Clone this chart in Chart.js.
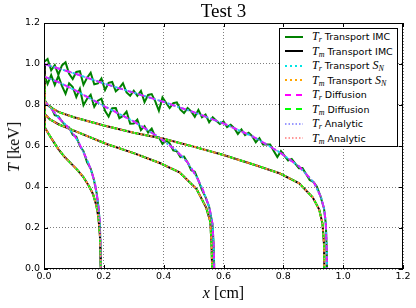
<!DOCTYPE html>
<html>
<head>
<meta charset="utf-8">
<script src="https://cdn.jsdelivr.net/npm/chart.js@4.4.1/dist/chart.umd.min.js"></script>
<style>
  body { margin: 0; background: #fff; }
  #wrap { position: relative; width: 416px; height: 308px; }
  #c { position: absolute; left: 0; top: 0; }
  .title { position: absolute; left: 44px; width: 359px; top: 0; line-height: 20px; text-align: center; font: 19px "Liberation Serif", serif; }
  .xlab { position: absolute; left: 44px; width: 359px; top: 284px; line-height: 18px; text-align: center; font: 16px "Liberation Serif", serif; }
  .ylab { position: absolute; left: 14px; top: 147px; transform: translate(-50%, -50%) rotate(-90deg); font: 16px "Liberation Serif", serif; white-space: nowrap; line-height: 18px; }
  .legend { position: absolute; left: 279px; top: 28px; width: 119px; height: 119px; border: 1px solid #000; background: #fff; box-sizing: border-box; font: 9.5px "DejaVu Sans", sans-serif; }
  .row { position: absolute; left: 5px; height: 14px; display: flex; align-items: center; white-space: nowrap; }
  .row svg { margin-right: 9px; }
  .m { font: italic 12px "Liberation Serif", serif; }
  .m sub { font-size: 8px; vertical-align: -2px; }
</style>
</head>
<body>
<div id="wrap">
  <canvas id="c" width="416" height="308"></canvas>
  <div class="title">Test 3</div>
  <div class="xlab"><i>x</i> [cm]</div>
  <div class="ylab"><i>T</i> [keV]</div>
  <div class="legend" id="legend"></div>
</div>
<script>
// radiation temperature profiles (fronts at ~0.19, ~0.57, ~0.95 cm)
const trEarlyX = [0, 0.02, 0.05, 0.075, 0.1, 0.115, 0.13, 0.145, 0.16, 0.17, 0.18, 0.186, 0.189, 0.19];
const trEarlyY = [0.82, 0.79, 0.735, 0.70, 0.655, 0.62, 0.575, 0.53, 0.47, 0.42, 0.33, 0.24, 0.12, 0];
const trMidX = [0, 0.05, 0.1, 0.2, 0.3, 0.387, 0.44, 0.48, 0.51, 0.53, 0.553, 0.563, 0.567, 0.569];
const trMidY = [0.94, 0.91, 0.875, 0.795, 0.72, 0.64, 0.58, 0.52, 0.45, 0.39, 0.30, 0.22, 0.12, 0];
const trLateX = [0, 0.1, 0.2, 0.3, 0.4, 0.5, 0.6, 0.7, 0.787, 0.853, 0.903, 0.926, 0.937, 0.942, 0.945, 0.946];
const trLateY = [1.0, 0.955, 0.905, 0.86, 0.815, 0.765, 0.71, 0.645, 0.57, 0.50, 0.42, 0.35, 0.29, 0.22, 0.10, 0];

// material temperature profiles
const tmEarlyX = [0, 0.003, 0.015, 0.03, 0.048, 0.07, 0.09, 0.109, 0.131, 0.15, 0.164, 0.175, 0.182, 0.187, 0.19];
const tmEarlyY = [0.82, 0.69, 0.66, 0.625, 0.585, 0.545, 0.515, 0.487, 0.45, 0.405, 0.365, 0.31, 0.25, 0.16, 0];
const tmMidX = [0, 0.003, 0.02, 0.05, 0.1, 0.209, 0.3, 0.387, 0.453, 0.51, 0.542, 0.556, 0.56, 0.562];
const tmMidY = [0.94, 0.755, 0.73, 0.705, 0.675, 0.61, 0.565, 0.517, 0.472, 0.39, 0.30, 0.23, 0.12, 0];
const tmLateX = [0, 0.003, 0.02, 0.05, 0.1, 0.2, 0.3, 0.4, 0.5, 0.6, 0.7, 0.787, 0.853, 0.898, 0.92, 0.931, 0.936, 0.937];
const tmLateY = [1.0, 0.815, 0.79, 0.765, 0.74, 0.70, 0.665, 0.635, 0.597, 0.556, 0.51, 0.467, 0.418, 0.35, 0.29, 0.22, 0.12, 0];

// noisy IMC radiation temperature
const imcTrEarlyX = [0, 0.012, 0.024, 0.036, 0.048, 0.06, 0.072, 0.084, 0.096, 0.108, 0.12, 0.132, 0.144, 0.156, 0.166, 0.176, 0.183, 0.187, 0.189, 0.19];
const imcTrEarlyY = [0.83, 0.80, 0.79, 0.75, 0.745, 0.72, 0.70, 0.69, 0.655, 0.645, 0.60, 0.575, 0.52, 0.49, 0.44, 0.37, 0.29, 0.2, 0.1, 0];
const imcTrMidX = [0, 0.012, 0.024, 0.036, 0.048, 0.06, 0.072, 0.084, 0.096, 0.108, 0.12, 0.132, 0.144, 0.156, 0.168, 0.18, 0.192, 0.204, 0.216, 0.228, 0.24, 0.252, 0.264, 0.276, 0.288, 0.3, 0.312, 0.324, 0.336, 0.348, 0.36, 0.372, 0.384, 0.396, 0.408, 0.42, 0.432, 0.444, 0.456, 0.468, 0.48, 0.492, 0.504, 0.516, 0.528, 0.54, 0.552, 0.563, 0.567, 0.569];
const imcTrMidY = [0.95, 0.903, 0.946, 0.898, 0.941, 0.893, 0.855, 0.906, 0.888, 0.839, 0.879, 0.799, 0.83, 0.85, 0.791, 0.821, 0.831, 0.772, 0.743, 0.784, 0.785, 0.736, 0.747, 0.768, 0.709, 0.71, 0.729, 0.678, 0.697, 0.666, 0.685, 0.644, 0.643, 0.61, 0.626, 0.613, 0.579, 0.574, 0.546, 0.548, 0.52, 0.482, 0.474, 0.432, 0.386, 0.351, 0.304, 0.22, 0.12, 0];
const imcTrLateX = [0, 0.012, 0.024, 0.036, 0.048, 0.06, 0.072, 0.084, 0.096, 0.108, 0.12, 0.132, 0.144, 0.156, 0.168, 0.18, 0.192, 0.204, 0.216, 0.228, 0.24, 0.252, 0.264, 0.276, 0.288, 0.3, 0.312, 0.324, 0.336, 0.348, 0.36, 0.372, 0.384, 0.396, 0.408, 0.42, 0.432, 0.444, 0.456, 0.468, 0.48, 0.492, 0.504, 0.516, 0.528, 0.54, 0.552, 0.564, 0.576, 0.588, 0.6, 0.612, 0.624, 0.636, 0.648, 0.66, 0.672, 0.684, 0.696, 0.708, 0.72, 0.732, 0.744, 0.756, 0.768, 0.78, 0.792, 0.804, 0.816, 0.828, 0.84, 0.852, 0.864, 0.876, 0.888, 0.9, 0.912, 0.924, 0.936, 0.942, 0.945, 0.946];
const imcTrLateY = [1.01, 1.025, 0.969, 0.994, 0.948, 0.993, 1.008, 0.952, 0.927, 0.961, 0.965, 0.899, 0.933, 0.957, 0.901, 0.905, 0.929, 0.873, 0.908, 0.912, 0.867, 0.882, 0.906, 0.861, 0.845, 0.87, 0.845, 0.869, 0.814, 0.849, 0.853, 0.818, 0.772, 0.837, 0.811, 0.785, 0.809, 0.813, 0.777, 0.761, 0.785, 0.769, 0.743, 0.776, 0.74, 0.753, 0.716, 0.74, 0.723, 0.707, 0.72, 0.692, 0.704, 0.687, 0.659, 0.681, 0.653, 0.665, 0.648, 0.618, 0.638, 0.607, 0.607, 0.607, 0.576, 0.546, 0.575, 0.552, 0.529, 0.537, 0.514, 0.491, 0.492, 0.463, 0.434, 0.425, 0.403, 0.356, 0.295, 0.22, 0.10, 0];

const xTicks = [0, 0.2, 0.4, 0.6, 0.8, 1.0, 1.2];
const yTicks = [0, 0.2, 0.4, 0.6, 0.8, 1.0, 1.2];

const trCurves = [[trEarlyX, trEarlyY], [trMidX, trMidY], [trLateX, trLateY]];
const tmCurves = [[tmEarlyX, tmEarlyY], [tmMidX, tmMidY], [tmLateX, tmLateY]];
const imcCurves = [[imcTrEarlyX, imcTrEarlyY], [imcTrMidX, imcTrMidY], [imcTrLateX, imcTrLateY]];

const series = [
  { sub: 'r', text: 'Transport IMC', curves: imcCurves, xEnd: 1.2, color: '#008000', width: 2, dash: [] },
  { sub: 'm', text: 'Transport IMC', curves: tmCurves, xEnd: 1.2, color: '#000000', width: 2, dash: [] },
  { sub: 'r', text: 'Transport <i class="m">S<sub>N</sub></i>', curves: trCurves, xEnd: 1.05, color: '#00e5e5', width: 2, dash: [2, 3] },
  { sub: 'm', text: 'Transport <i class="m">S<sub>N</sub></i>', curves: tmCurves, xEnd: 1.05, color: '#ffa500', width: 2, dash: [2, 3] },
  { sub: 'r', text: 'Diffusion', curves: trCurves, xEnd: 1.05, color: '#ff00ff', width: 2, dash: [6, 5] },
  { sub: 'm', text: 'Diffusion', curves: tmCurves, xEnd: 1.05, color: '#00ff00', width: 2, dash: [6, 5] },
  { sub: 'r', text: 'Analytic', curves: trCurves, xEnd: 1.05, color: '#7777ff', width: 1.5, dash: [1.5, 2] },
  { sub: 'm', text: 'Analytic', curves: tmCurves, xEnd: 1.05, color: '#ff7777', width: 1.5, dash: [1.5, 2] },
];

const buildData = (curves, xEnd) => {
  const pts = [];
  curves.forEach(([xs, ys], k) => {
    if (k > 0) pts.push({ x: xs[0], y: null });
    xs.forEach((x, i) => pts.push({ x, y: ys[i] }));
    pts.push({ x: xEnd, y: 0 });
  });
  return pts;
};

const datasets = series.map((s, i) => ({
  label: 'T' + s.sub + ' ' + s.text.replace(/<[^>]+>/g, ''),
  data: buildData(s.curves, s.xEnd),
  borderColor: s.color,
  borderWidth: s.width,
  borderDash: s.dash,
  pointRadius: 0,
  fill: false,
  tension: 0,
  spanGaps: false,
  order: series.length - i,
}));

const font = { family: '"DejaVu Sans", sans-serif', size: 9.5 };

const frame = {
  id: 'frame',
  afterDatasetsDraw(chart) {
    const { ctx, chartArea: a, scales } = chart;
    ctx.save();
    ctx.strokeStyle = '#000';
    ctx.lineWidth = 1;
    ctx.strokeRect(a.left + 0.5, a.top + 0.5, a.right - a.left - 1, a.bottom - a.top - 1);
    ctx.beginPath();
    xTicks.forEach(v => {
      const px = Math.round(scales.x.getPixelForValue(v)) + 0.5;
      ctx.moveTo(px, a.bottom); ctx.lineTo(px, a.bottom - 4);
      ctx.moveTo(px, a.top); ctx.lineTo(px, a.top + 4);
    });
    yTicks.forEach(v => {
      const py = Math.round(scales.y.getPixelForValue(v)) + 0.5;
      ctx.moveTo(a.left, py); ctx.lineTo(a.left + 4, py);
      ctx.moveTo(a.right, py); ctx.lineTo(a.right - 4, py);
    });
    ctx.stroke();
    ctx.restore();
  }
};

new Chart(document.getElementById('c'), {
  type: 'line',
  data: { datasets },
  options: {
    responsive: false,
    animation: false,
    layout: { padding: { left: 0, right: 13, top: 23, bottom: 0 } },
    plugins: { legend: { display: false }, tooltip: { enabled: false } },
    scales: {
      x: {
        type: 'linear', min: 0, max: 1.2,
        afterBuildTicks: s => { s.ticks = xTicks.map(v => ({ value: v })); },
        afterFit: s => { s.height = 39; },
        ticks: { color: '#000', font, padding: 2, maxRotation: 0, callback: v => v.toFixed(1) },
        grid: { color: 'rgba(0,0,0,0.5)', lineWidth: 1, drawTicks: false },
        border: { display: false, dash: [1, 2] },
      },
      y: {
        type: 'linear', min: 0, max: 1.2,
        afterBuildTicks: s => { s.ticks = yTicks.map(v => ({ value: v })); },
        afterFit: s => { s.width = 44; },
        ticks: { color: '#000', font, padding: 4, callback: v => v.toFixed(1) },
        grid: { color: 'rgba(0,0,0,0.5)', lineWidth: 1, drawTicks: false },
        border: { display: false, dash: [1, 2] },
      },
    },
  },
  plugins: [frame],
});

const legend = document.getElementById('legend');
series.forEach((s, i) => {
  const row = document.createElement('div');
  row.className = 'row';
  row.style.top = (0.5 + 14.5 * i) + 'px';
  const dash = s.dash.length ? `stroke-dasharray="${s.dash.join(' ')}"` : '';
  row.innerHTML = `<svg width="18" height="4"><line x1="0" y1="2" x2="18" y2="2" stroke="${s.color}" stroke-width="${s.width}" ${dash}/></svg>` +
    `<span><i class="m">T<sub>${s.sub}</sub></i> ${s.text}</span>`;
  legend.appendChild(row);
});
</script>
</body>
</html>
